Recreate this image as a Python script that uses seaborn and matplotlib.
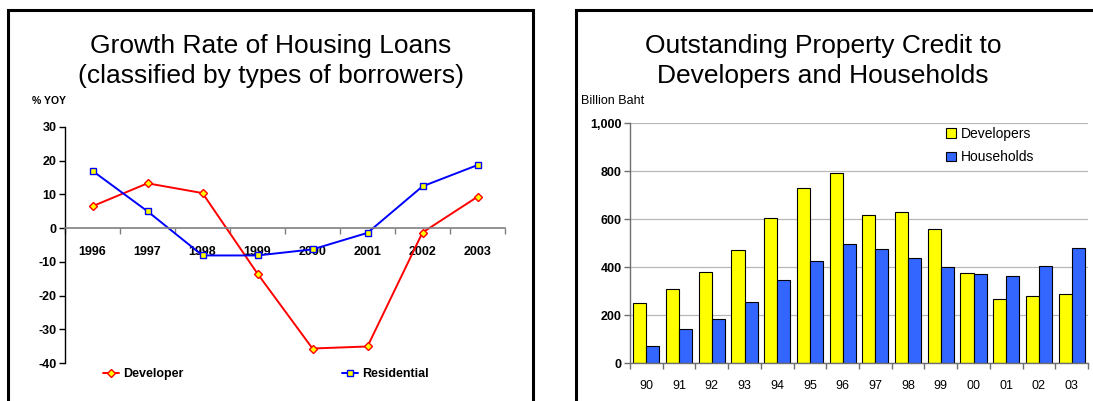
import numpy as np
import pandas as pd
import matplotlib
matplotlib.use("Agg")
import matplotlib.pyplot as plt
from matplotlib.patches import Rectangle
from matplotlib.ticker import FixedLocator, FuncFormatter
import seaborn as sns

# ---- data -------------------------------------------------------------
growth_years = ["1996", "1997", "1998", "1999", "2000", "2001", "2002", "2003"]
developer_growth = [6.5, 13.3, 10.4, -13.5, -35.7, -35.1, -1.3, 9.3]
residential_growth = [17.0, 5.0, -8.1, -8.1, -6.3, -1.4, 12.4, 18.7]

credit_years = ["90", "91", "92", "93", "94", "95", "96", "97", "98", "99",
                "00", "01", "02", "03"]
developers_credit = [250, 308, 382, 473, 607, 730, 794, 617, 632, 561,
                     378, 269, 279, 287]
households_credit = [73, 142, 185, 255, 347, 425, 497, 476, 440, 400,
                     372, 365, 407, 482]

# ---- style ------------------------------------------------------------
sns.set_theme(style="white")
plt.rcParams["font.family"] = ["Liberation Sans", "DejaVu Sans"]
plt.rcParams.update({"text.color": "black", "axes.labelcolor": "black",
                     "xtick.color": "black", "ytick.color": "black"})

W, H = 1093, 401
fig = plt.figure(figsize=(W / 100, H / 100), dpi=100)


def fx(px):
    return px / W


def fy(py):
    return 1 - py / H


# panel frames
for x0, x1 in [(8, 533), (576, 1110)]:
    fig.add_artist(Rectangle((fx(x0), fy(430)), fx(x1) - fx(x0), fy(10) - fy(430),
                             transform=fig.transFigure, fill=False,
                             lw=2.2, ec="black", clip_on=False))

# ---- left: growth rate lines -----------------------------------------
ax1 = fig.add_axes([fx(65), fy(363), fx(505) - fx(65), fy(127) - fy(363)])
pos = np.arange(len(growth_years))
sns.lineplot(x=pos, y=developer_growth, ax=ax1, color="#FF0000", lw=1.4,
             marker="D", markersize=4.5, markerfacecolor="#FFFF00",
             markeredgecolor="#FF0000", markeredgewidth=1.0, label="Developer")
sns.lineplot(x=pos, y=residential_growth, ax=ax1, color="#0000FF", lw=1.4,
             marker="s", markersize=5, markerfacecolor="#FFFF00",
             markeredgecolor="#0000FF", markeredgewidth=1.0, label="Residential")

ax1.set_xlim(-0.5, len(growth_years) - 0.5)
ax1.set_ylim(-40, 30)
ax1.set_yticks(np.arange(-40, 31, 10))
ax1.set_yticklabels([str(v) for v in range(-40, 31, 10)],
                    fontsize=9, fontweight="bold")
for s in ["top", "right"]:
    ax1.spines[s].set_visible(False)
ax1.spines["left"].set_color("black")
ax1.spines["left"].set_linewidth(1.0)
ax1.spines["bottom"].set_position(("data", 0))
ax1.spines["bottom"].set_color("#7f7f7f")
ax1.spines["bottom"].set_linewidth(1.2)
ax1.xaxis.set_major_locator(FixedLocator(np.arange(-0.5, len(growth_years), 1.0)))
ax1.xaxis.set_major_formatter(FuncFormatter(lambda v, p: ""))
ax1.xaxis.set_minor_locator(FixedLocator(pos))
ax1.set_xticklabels(growth_years, minor=True, fontsize=9, fontweight="bold")
ax1.tick_params(axis="x", which="major", direction="out", length=4,
                width=1, color="#7f7f7f", bottom=True)
ax1.tick_params(axis="x", which="minor", length=0, pad=13, bottom=True)
ax1.tick_params(axis="y", direction="out", length=4, width=1, color="black",
                left=True, pad=2)
ax1.set_xlabel("")
ax1.set_ylabel("")
ax1.legend(ncol=2, loc="center left", bbox_to_anchor=(fx(103), fy(374)),
           bbox_transform=fig.transFigure, frameon=False, borderpad=0,
           borderaxespad=0, handlelength=1.3, handletextpad=0.3,
           columnspacing=12.7, prop={"size": 9, "weight": "bold"})

fig.text(fx(271), fy(53), "Growth Rate of Housing Loans", ha="center",
         va="baseline", fontsize=19)
fig.text(fx(271), fy(83), "(classified by types of borrowers)", ha="center",
         va="baseline", fontsize=19)
fig.text(fx(32), fy(101), "% YOY", ha="left", va="center", fontsize=7.5,
         fontweight="bold")

# ---- right: outstanding credit bars ----------------------------------
ax2 = fig.add_axes([fx(630), fy(363.3), fx(1088) - fx(630), fy(123.3) - fy(363.3)])
credit = pd.DataFrame({
    "year": credit_years * 2,
    "series": ["Developers"] * len(credit_years) + ["Households"] * len(credit_years),
    "value": developers_credit + households_credit,
})
sns.barplot(data=credit, x="year", y="value", hue="series", order=credit_years,
            palette={"Developers": "#FFFF00", "Households": "#3366FF"},
            saturation=1, edgecolor="black", linewidth=0.8, width=0.8, ax=ax2)
ax2.set_xlim(-0.5, len(credit_years) - 0.5)
ax2.set_ylim(0, 1000)
ax2.set_yticks(np.arange(0, 1001, 200))
ax2.set_yticklabels([f"{v:,}" for v in range(0, 1001, 200)], fontsize=9,
                    fontweight="bold")
ax2.yaxis.grid(True, color="#b8b8b8", lw=0.9)
ax2.set_axisbelow(True)
for s in ["top", "right"]:
    ax2.spines[s].set_visible(False)
for s in ["left", "bottom"]:
    ax2.spines[s].set_color("#6f6f6f")
    ax2.spines[s].set_linewidth(1.0)
cpos = np.arange(len(credit_years))
ax2.xaxis.set_major_locator(FixedLocator(np.arange(-0.5, len(credit_years), 1.0)))
ax2.xaxis.set_major_formatter(FuncFormatter(lambda v, p: ""))
ax2.xaxis.set_minor_locator(FixedLocator(cpos))
ax2.set_xticklabels(credit_years, minor=True, fontsize=9)
ax2.tick_params(axis="x", which="major", direction="out", length=4, width=1,
                color="#6f6f6f", bottom=True)
ax2.tick_params(axis="x", which="minor", length=0, pad=12, bottom=True)
ax2.tick_params(axis="y", direction="out", length=4, width=1, color="#6f6f6f",
                left=True, pad=2)
ax2.set_xlabel("")
ax2.set_ylabel("")
ax2.legend(loc="upper left", bbox_to_anchor=(fx(946), fy(127)),
           bbox_transform=fig.transFigure, frameon=False, borderpad=0,
           borderaxespad=0, handlelength=0.7, handleheight=0.7,
           handletextpad=0.35, labelspacing=0.68, fontsize=10, title=None)

fig.text(fx(823), fy(53), "Outstanding Property Credit to", ha="center",
         va="baseline", fontsize=19)
fig.text(fx(823), fy(83), "Developers and Households", ha="center",
         va="baseline", fontsize=19)
fig.text(fx(581), fy(101), "Billion Baht", ha="left", va="center", fontsize=9)

fig.savefig("out.png", dpi=100)
